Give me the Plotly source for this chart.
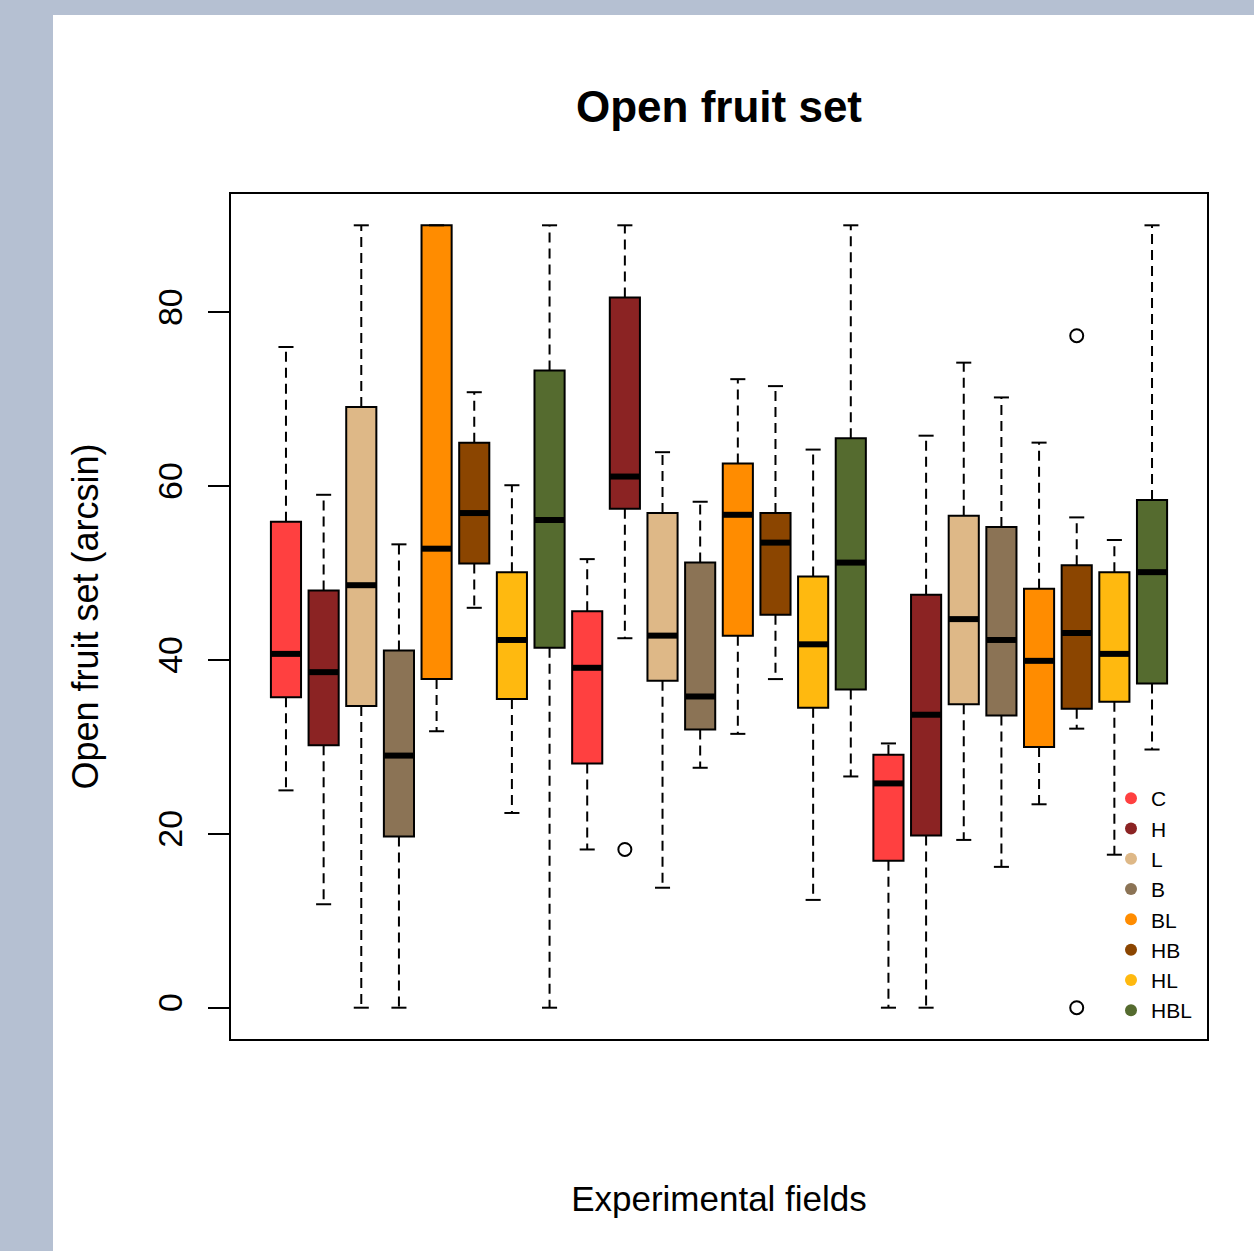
import plotly.graph_objects as go

# Eight treatments repeated over three experimental fields (24 boxes, left to right)
treatments = ["C", "H", "L", "B", "BL", "HB", "HL", "HBL"]
colors = ["#FF4040", "#8B2323", "#DEB887", "#8B7355",
          "#FF8C00", "#8B4500", "#FFB90F", "#556B2F"]
n_fields = 3

# Five-number summaries, field 1 -> field 3, treatments in the order above
whisker_low = [25.0, 11.9, 0.0, 0.0, 31.8, 46.0, 22.4, 0.0,
               18.2, 42.5, 13.8, 27.6, 31.5, 37.8, 12.4, 26.6,
               0.0, 0.0, 19.3, 16.2, 23.4, 32.1, 17.6, 29.7]
lower_q = [35.7, 30.2, 34.7, 19.7, 37.8, 51.1, 35.5, 41.4,
           28.1, 57.4, 37.6, 32.0, 42.8, 45.2, 34.5, 36.6,
           16.9, 19.8, 34.9, 33.6, 30.0, 34.4, 35.2, 37.3]
medians = [40.7, 38.6, 48.6, 29.0, 52.8, 56.9, 42.3, 56.1,
           39.1, 61.1, 42.8, 35.8, 56.7, 53.5, 41.8, 51.2,
           25.8, 33.7, 44.7, 42.3, 39.9, 43.1, 40.7, 50.1]
upper_q = [55.9, 48.0, 69.1, 41.1, 90.0, 65.0, 50.1, 73.3,
           45.6, 81.7, 56.9, 51.2, 62.6, 56.9, 49.6, 65.5,
           29.1, 47.5, 56.6, 55.3, 48.2, 50.9, 50.1, 58.4]
whisker_high = [76.0, 59.0, 90.0, 53.3, 90.0, 70.8, 60.1, 90.0,
                51.6, 90.0, 63.9, 58.2, 72.3, 71.5, 64.2, 90.0,
                30.4, 65.8, 74.2, 70.2, 65.0, 56.4, 53.8, 90.0]

# Outlying observations: box index (1-based) and value
outlier_box = [10, 22, 22]
outlier_val = [18.2, 77.3, 0.0]

BOX_W = 0.8
CAP_W = 0.4
FONT = "Arial, Liberation Sans, sans-serif"

fig = go.Figure()

for t, name in enumerate(treatments):
    idx = [f * len(treatments) + t for f in range(n_fields)]
    pos = [i + 1 for i in idx]

    # dashed whiskers from the box edges to the extremes
    wx, wy = [], []
    for p, i in zip(pos, idx):
        wx += [p, p, None, p, p, None]
        wy += [upper_q[i], whisker_high[i], None, lower_q[i], whisker_low[i], None]
    fig.add_trace(go.Scatter(x=wx, y=wy, mode="lines", hoverinfo="skip",
                             line=dict(color="black", width=2, dash="10px,6px"),
                             showlegend=False))

    # whisker caps
    cx, cy = [], []
    for p, i in zip(pos, idx):
        cx += [p - CAP_W / 2, p + CAP_W / 2, None, p - CAP_W / 2, p + CAP_W / 2, None]
        cy += [whisker_high[i], whisker_high[i], None, whisker_low[i], whisker_low[i], None]
    fig.add_trace(go.Scatter(x=cx, y=cy, mode="lines", hoverinfo="skip",
                             line=dict(color="black", width=2),
                             showlegend=False))

    # interquartile boxes
    fig.add_trace(go.Box(
        x=pos,
        q1=[lower_q[i] for i in idx],
        median=[medians[i] for i in idx],
        q3=[upper_q[i] for i in idx],
        lowerfence=[lower_q[i] for i in idx],
        upperfence=[upper_q[i] for i in idx],
        width=BOX_W, whiskerwidth=0,
        fillcolor=colors[t],
        line=dict(color="black", width=2),
        boxpoints=False, name=name, showlegend=False,
    ))

    # thick median bars
    mx, my = [], []
    for p, i in zip(pos, idx):
        mx += [p - BOX_W / 2, p + BOX_W / 2, None]
        my += [medians[i], medians[i], None]
    fig.add_trace(go.Scatter(x=mx, y=my, mode="lines", hoverinfo="skip",
                             line=dict(color="black", width=6),
                             showlegend=False))

# outliers as open circles
fig.add_trace(go.Scatter(
    x=outlier_box, y=outlier_val, mode="markers", showlegend=False,
    marker=dict(symbol="circle-open", size=13, color="black",
                line=dict(width=2, color="black")),
))

# legend keys: filled dots per treatment
for t, name in enumerate(treatments):
    fig.add_trace(go.Scatter(
        x=[None], y=[None], mode="markers", name=name,
        legendgroup=name,
        marker=dict(symbol="circle", size=12, color=colors[t]),
    ))

# light frame strips along the left and top of the page
frame = "#B5C0D2"
L, R, T, B = 231, 1207, 194, 1039
W, H = 1254, 1251


def px_x(px):
    return (px - L) / (R - L)


def px_y(py):
    return (B - py) / (B - T)


fig.add_shape(type="rect", xref="paper", yref="paper",
              x0=px_x(0), x1=px_x(53), y0=px_y(H), y1=px_y(0),
              fillcolor=frame, line=dict(width=0), layer="above")
fig.add_shape(type="rect", xref="paper", yref="paper",
              x0=px_x(0), x1=px_x(W), y0=px_y(15), y1=px_y(0),
              fillcolor=frame, line=dict(width=0), layer="above")

fig.update_layout(
    width=W, height=H,
    margin=dict(l=L, r=W - R, t=T, b=H - B, pad=0),
    paper_bgcolor="white", plot_bgcolor="white",
    font=dict(family=FONT, color="black"),
    title=dict(text="<b>Open fruit set</b>", x=0.5, xref="paper",
               y=1 - 107 / H, yref="container", yanchor="middle",
               xanchor="center", font=dict(size=44, family=FONT, color="black")),
    showlegend=True,
    legend=dict(x=px_x(1111), y=px_y(778), xanchor="left", yanchor="top",
                bgcolor="rgba(0,0,0,0)", borderwidth=0,
                font=dict(size=21, family=FONT, color="black"),
                tracegroupgap=0, itemwidth=30),
    boxmode="overlay",
)

fig.update_xaxes(range=[-0.46, 25.46], showgrid=False, zeroline=False,
                 showticklabels=False, ticks="",
                 showline=True, mirror=True, linecolor="black", linewidth=2,
                 title=dict(text="Experimental fields", standoff=146,
                            font=dict(size=35, family=FONT, color="black")))
fig.update_yaxes(range=[-3.6, 93.6], tickvals=[0, 20, 40, 60, 80],
                 ticks="outside", ticklen=21, tickwidth=2, tickcolor="black",
                 tickangle=-90, ticklabelstandoff=12,
                 tickfont=dict(size=34, family=FONT, color="black"),
                 showgrid=False, zeroline=False,
                 showline=True, mirror=True, linecolor="black", linewidth=2,
                 title=dict(text="Open fruit set (arcsin)", standoff=42,
                            font=dict(size=36, family=FONT, color="black")))

fig.write_html("out.html")
